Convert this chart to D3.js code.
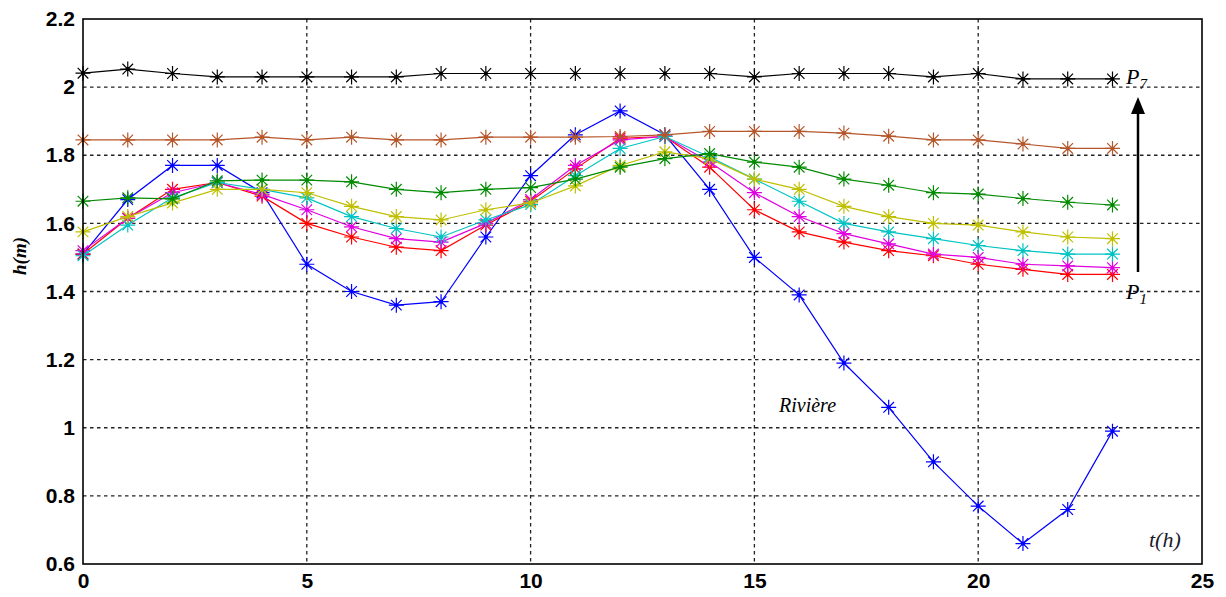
<!DOCTYPE html>
<html>
<head>
<meta charset="utf-8">
<script src="https://cdn.jsdelivr.net/npm/d3@7"></script>
<style>
  html, body { margin: 0; padding: 0; background: #fff; }
  svg { display: block; }
</style>
</head>
<body>
<svg id="chart" width="1226" height="597"></svg>
<script>
// ---- data ----
const hours = [0,1,2,3,4,5,6,7,8,9,10,11,12,13,14,15,16,17,18,19,20,21,22,23];
const riviere = [1.51,1.67,1.77,1.77,1.69,1.48,1.40,1.36,1.37,1.56,1.74,1.86,1.93,1.86,1.70,1.50,1.39,1.19,1.06,0.90,0.77,0.66,0.76,0.99];
const p1 = [1.51,1.615,1.70,1.72,1.68,1.60,1.56,1.53,1.52,1.595,1.665,1.76,1.85,1.855,1.765,1.64,1.575,1.545,1.52,1.505,1.48,1.465,1.45,1.45];
const p2 = [1.52,1.615,1.69,1.72,1.685,1.64,1.59,1.555,1.545,1.60,1.67,1.77,1.845,1.855,1.78,1.69,1.62,1.57,1.54,1.51,1.50,1.48,1.475,1.47];
const p3 = [1.505,1.595,1.675,1.72,1.70,1.675,1.62,1.585,1.56,1.61,1.655,1.74,1.82,1.855,1.795,1.73,1.665,1.60,1.575,1.555,1.535,1.52,1.51,1.51];
const p4 = [1.575,1.62,1.66,1.70,1.70,1.69,1.65,1.62,1.61,1.64,1.66,1.71,1.77,1.81,1.79,1.73,1.70,1.65,1.62,1.60,1.595,1.575,1.56,1.555];
const p5 = [1.665,1.675,1.672,1.725,1.727,1.727,1.722,1.70,1.69,1.70,1.705,1.73,1.765,1.79,1.805,1.78,1.765,1.73,1.712,1.69,1.686,1.673,1.662,1.654];
const p6 = [1.845,1.845,1.845,1.845,1.853,1.845,1.853,1.845,1.845,1.853,1.853,1.853,1.855,1.86,1.87,1.87,1.87,1.865,1.856,1.845,1.845,1.833,1.82,1.82];
const p7 = [2.041,2.053,2.04,2.03,2.03,2.03,2.03,2.03,2.04,2.04,2.04,2.04,2.04,2.04,2.04,2.03,2.04,2.04,2.04,2.03,2.04,2.024,2.024,2.024];
const xTicks = [0,5,10,15,20,25];
const yTicks = [0.6,0.8,1.0,1.2,1.4,1.6,1.8,2.0,2.2];
const yTickLabels = ["0.6","0.8","1","1.2","1.4","1.6","1.8","2","2.2"];

const seriesList = [
  {name: "P7", values: p7, color: "#000000"},
  {name: "P6", values: p6, color: "#b5562a"},
  {name: "P5", values: p5, color: "#008a00"},
  {name: "P4", values: p4, color: "#bfbf00"},
  {name: "P3", values: p3, color: "#00c4c4"},
  {name: "P2", values: p2, color: "#e000e0"},
  {name: "P1", values: p1, color: "#ff0000"},
  {name: "Rivière", values: riviere, color: "#0000ff"}
];

// ---- layout ----
const L = 83, R = 1202, T = 19, B = 564;
const svg = d3.select("#chart");
const x = d3.scaleLinear().domain([0, 25]).range([L, R]);
const y = d3.scaleLinear().domain([0.6, 2.2]).range([B, T]);

// grid
const grid = svg.append("g");
grid.selectAll("line.gx").data(xTicks.filter(v => v > 0 && v < 25)).enter().append("line")
  .attr("x1", d => x(d)).attr("x2", d => x(d)).attr("y1", T).attr("y2", B)
  .attr("stroke", "#222").attr("stroke-width", 1.3).attr("stroke-dasharray", "3.5,3.5");
grid.selectAll("line.gy").data(yTicks.filter(v => v > 0.6 && v < 2.2)).enter().append("line")
  .attr("y1", d => y(d)).attr("y2", d => y(d)).attr("x1", L).attr("x2", R)
  .attr("stroke", "#222").attr("stroke-width", 1.3).attr("stroke-dasharray", "3.5,3.5");

// axes
const xAxis = d3.axisBottom(x).tickValues(xTicks).tickSize(0).tickPadding(9).tickFormat(d3.format("d"));
const gx = svg.append("g").attr("transform", `translate(0,${B})`).call(xAxis);
gx.select(".domain").remove();
gx.selectAll("text").attr("font-family", "Liberation Sans, Arial, sans-serif")
  .attr("font-size", 21).attr("font-weight", "bold").attr("fill", "#000");

const yAxis = d3.axisLeft(y).tickValues(yTicks).tickSize(0).tickPadding(8)
  .tickFormat((d, i) => yTickLabels[i]);
const gy = svg.append("g").attr("transform", `translate(${L},0)`).call(yAxis);
gy.select(".domain").remove();
gy.selectAll("text").attr("font-family", "Liberation Sans, Arial, sans-serif")
  .attr("font-size", 21).attr("font-weight", "bold").attr("fill", "#000");

// lines
const line = d3.line().x((d, i) => x(hours[i])).y(d => y(d));
const star = (g, cx, cy, color) => {
  const r = 7.5, rd = 5.3;
  g.append("path")
    .attr("d", `M${cx - r},${cy}L${cx + r},${cy}M${cx},${cy - r}L${cx},${cy + r}` +
               `M${cx - rd},${cy - rd}L${cx + rd},${cy + rd}M${cx - rd},${cy + rd}L${cx + rd},${cy - rd}`)
    .attr("stroke", color).attr("stroke-width", 1.2).attr("fill", "none");
  g.append("circle").attr("cx", cx).attr("cy", cy).attr("r", 2).attr("fill", color);
};

const plot = svg.append("g");
seriesList.slice().reverse().forEach(s => {
  const g = plot.append("g");
  g.append("path").datum(s.values).attr("d", line)
    .attr("fill", "none").attr("stroke", s.color).attr("stroke-width", 1.2);
  s.values.forEach((v, i) => star(g, x(hours[i]), y(v), s.color));
});

// frame
svg.append("rect").attr("x", L).attr("y", T).attr("width", R - L).attr("height", B - T)
  .attr("fill", "none").attr("stroke", "#000").attr("stroke-width", 1.6);

// annotations
const serif = "Liberation Serif, Times New Roman, serif";
svg.append("text").attr("x", 779).attr("y", 412).attr("font-family", serif)
  .attr("font-style", "italic").attr("font-size", 20).text("Rivière");
svg.append("text").attr("x", 1149).attr("y", 547).attr("font-family", serif)
  .attr("font-style", "italic").attr("font-size", 22).attr("fill", "#1a1a2a").text("t(h)");

const p7t = svg.append("text").attr("x", 1126).attr("y", 84).attr("font-family", serif)
  .attr("font-style", "italic").attr("font-size", 22).text("P");
p7t.append("tspan").attr("font-size", 15).attr("dy", 5).text("7");
const p1t = svg.append("text").attr("x", 1126).attr("y", 299).attr("font-family", serif)
  .attr("font-style", "italic").attr("font-size", 22).text("P");
p1t.append("tspan").attr("font-size", 15).attr("dy", 5).text("1");

// arrow
svg.append("line").attr("x1", 1138).attr("x2", 1138).attr("y1", 272).attr("y2", 112)
  .attr("stroke", "#000").attr("stroke-width", 2.5);
svg.append("path").attr("d", "M1138,97L1131,114L1145,114Z").attr("fill", "#000");

// y label
svg.append("text").attr("transform", "translate(26,256) rotate(-90)")
  .attr("text-anchor", "middle").attr("font-family", serif)
  .attr("font-style", "italic").attr("font-weight", "bold").attr("font-size", 19).text("h(m)");
</script>
</body>
</html>
